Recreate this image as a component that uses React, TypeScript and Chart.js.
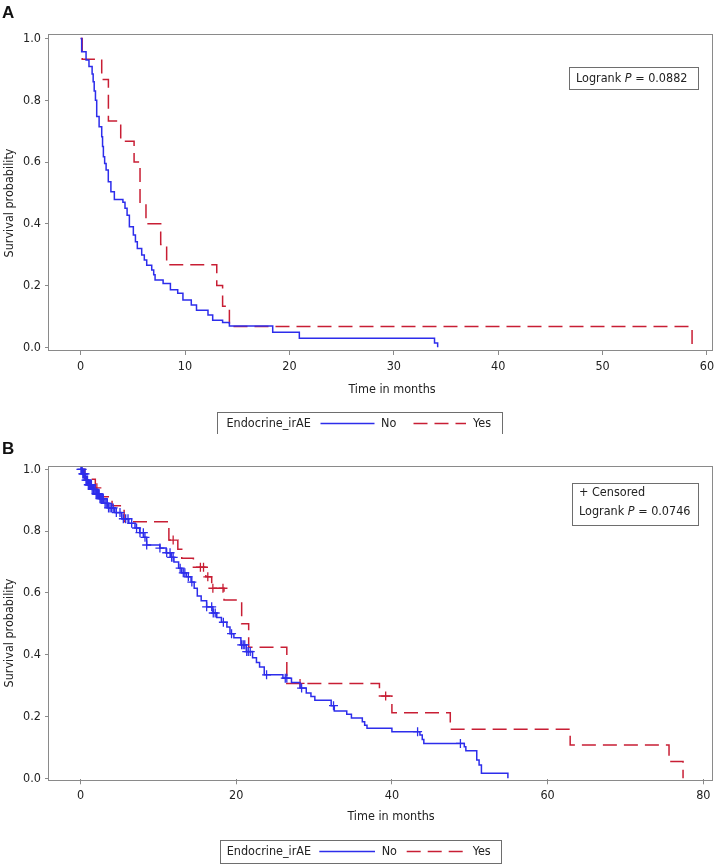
import React, { useEffect, useRef } from 'react';
import { Chart, registerables } from 'chart.js';

Chart.register(...registerables);

// ---------------- Data ----------------
// Panel A (no censoring marks)
const timeA_No = [0, 0.1, 0.52, 0.8, 1.1, 1.2, 1.3, 1.42, 1.54, 1.77, 2.02, 2.1, 2.18, 2.3, 2.44, 2.65, 2.9, 3.23, 4.05, 4.25, 4.45, 4.67, 5.05, 5.25, 5.43, 5.85, 6.1, 6.33, 6.81, 7.0, 7.13, 7.9, 8.6, 9.3, 9.8, 10.6, 11.1, 12.2, 12.65, 13.6, 14.25, 18.4, 20.95, 33.9, 34.2];
const survA_No = [1.0, 0.957, 0.93, 0.909, 0.885, 0.86, 0.83, 0.8, 0.747, 0.714, 0.682, 0.65, 0.617, 0.595, 0.574, 0.536, 0.504, 0.479, 0.47, 0.45, 0.428, 0.39, 0.364, 0.342, 0.32, 0.299, 0.283, 0.266, 0.25, 0.235, 0.218, 0.207, 0.186, 0.175, 0.153, 0.137, 0.12, 0.105, 0.088, 0.08, 0.069, 0.049, 0.029, 0.014, 0];
const timeA_Yes = [0, 0.15, 2.02, 2.66, 3.84, 5.12, 5.69, 6.26, 7.67, 8.24, 13.04, 13.6, 14.25, 58.57];
const survA_Yes = [1.0, 0.933, 0.867, 0.733, 0.667, 0.6, 0.467, 0.4, 0.333, 0.267, 0.2, 0.133, 0.067, 0];
const xTicksA = [0, 10, 20, 30, 40, 50, 60];
const logrankA = '0.0882';

// Panel B (with censoring marks)
const timeB_No = [0, 0.3, 0.6, 1.0, 1.5, 2.0, 2.5, 3.0, 3.6, 4.4, 5.3, 6.2, 7.0, 7.6, 8.1, 8.5, 10.2, 11.0, 11.6, 12.0, 12.6, 13.0, 13.6, 14.2, 14.6, 15.0, 15.5, 16.2, 17.0, 17.5, 18.1, 18.8, 19.2, 19.7, 20.6, 21.3, 22.1, 22.6, 23.0, 23.6, 26.0, 27.1, 28.2, 29.0, 29.6, 30.1, 32.2, 32.6, 34.2, 34.8, 36.2, 36.5, 36.8, 40.0, 43.6, 43.9, 44.1, 49.3, 49.5, 50.9, 51.2, 51.5, 54.9];
const survB_No = [1.0, 0.985, 0.965, 0.95, 0.935, 0.92, 0.905, 0.89, 0.875, 0.86, 0.84, 0.825, 0.81, 0.795, 0.78, 0.755, 0.745, 0.73, 0.715, 0.7, 0.68, 0.665, 0.652, 0.635, 0.615, 0.59, 0.575, 0.555, 0.535, 0.52, 0.505, 0.49, 0.468, 0.455, 0.432, 0.41, 0.39, 0.375, 0.36, 0.335, 0.324, 0.31, 0.292, 0.276, 0.265, 0.253, 0.235, 0.218, 0.207, 0.195, 0.183, 0.172, 0.162, 0.151, 0.14, 0.126, 0.113, 0.102, 0.089, 0.059, 0.043, 0.016, 0];
const censorB_No = [0.05, 0.15, 0.2, 0.3, 0.36, 0.45, 0.58, 0.7, 0.79, 0.9, 1.0, 1.1, 1.15, 1.3, 1.4, 1.5, 1.65, 1.75, 1.86, 2.0, 2.08, 2.2, 2.3, 2.4, 2.5, 2.6, 2.72, 2.85, 2.93, 3.15, 3.3, 3.45, 3.6, 3.8, 4.0, 4.2, 4.6, 5.07, 5.5, 5.8, 6.1, 6.57, 7.2, 7.64, 8.07, 8.28, 8.5, 10.2, 11.07, 11.5, 11.7, 11.9, 12.8, 13.2, 13.4, 13.85, 14.3, 16.2, 16.85, 17.05, 17.3, 18.35, 19.4, 20.7, 20.9, 21.1, 21.35, 21.55, 21.8, 23.9, 26.3, 26.5, 28.4, 32.5, 43.3, 48.8];
const timeB_Yes = [0, 0.55, 1.9, 2.35, 4.05, 5.6, 11.35, 12.5, 13.0, 14.5, 16.1, 16.85, 18.43, 20.7, 21.6, 26.5, 38.4, 40.0, 47.5, 62.9, 75.6, 77.4];
const survB_Yes = [1.0, 0.968, 0.94, 0.911, 0.882, 0.83, 0.771, 0.741, 0.712, 0.683, 0.652, 0.615, 0.577, 0.5, 0.424, 0.307, 0.266, 0.212, 0.159, 0.108, 0.054, 0];
const censorB_Yes = [2.1, 11.9, 15.4, 15.8, 16.35, 17.0, 18.3, 28.2, 39.2];
const xTicksB = [0, 20, 40, 60, 80];
const logrankB = '0.0746';

const yTicks = [0, 0.2, 0.4, 0.6, 0.8, 1.0];
const groupTitle = 'Endocrine_irAE';
const groupLabels = ['No', 'Yes'];
const xTitle = 'Time in months';
const yTitle = 'Survival probability';
const censoredText = '+ Censored';

// ---------------- Styles ----------------
const FONT = '"DejaVu Sans Condensed", "Liberation Sans", sans-serif';
const FS = 12.5;
const BLUE = 'rgb(45,45,235)';
const RED = 'rgb(200,30,52)';
const FRAME = '#8a8a8a';
const BOXLINE = '#6e6e6e';
const TEXT = '#222222';
const DASH = [14, 7];

function survAt(times: number[], surv: number[], t: number) {
  let s = surv[0];
  for (let i = 0; i < times.length; i++) {
    if (times[i] <= t) s = surv[i];
    else break;
  }
  return s;
}

type Curve = { times: number[]; surv: number[]; color: string; dashed: boolean; censor?: number[] };
type InsetLine = { x: number; y: number; parts: { t: string; italic?: boolean }[] };
type PanelCfg = {
  top: number;
  height: number;
  padTop: number;
  padBottom: number;
  xMin: number; xMax: number; yMin: number; yMax: number;
  xTicks: number[];
  curves: Curve[];
  letter: string; letterY: number;
  xTitlePos: [number, number];
  yTitlePos: [number, number];
  inset: { x: number; y: number; w: number; h: number; lines: InsetLine[] };
  legend: { x: number; y: number; w: number; h: number; titleX: number; noLine: [number, number]; noX: number; yesLine: [number, number]; yesX: number };
};

const panelA: PanelCfg = {
  top: 0, height: 434, padTop: 35, padBottom: 54,
  xMin: -3.03, xMax: 60.48, yMin: -0.0087, yMax: 1.0113,
  xTicks: xTicksA,
  curves: [
    { times: timeA_No, surv: survA_No, color: BLUE, dashed: false },
    { times: timeA_Yes, surv: survA_Yes, color: RED, dashed: true },
  ],
  letter: 'A', letterY: 17.5,
  xTitlePos: [392, 389.5],
  yTitlePos: [10, 203],
  inset: { x: 569, y: 67, w: 129, h: 22, lines: [
    { x: 576, y: 78.3, parts: [{ t: 'Logrank ' }, { t: 'P', italic: true }, { t: ' = ' + logrankA }] },
  ] },
  legend: { x: 217, y: 412, w: 285, h: 23, titleX: 226.5, noLine: [320.5, 374.5], noX: 381, yesLine: [413.5, 466], yesX: 473 },
};

const panelB: PanelCfg = {
  top: 434, height: 434, padTop: 32.7, padBottom: 58.7,
  xMin: -4.05, xMax: 81.12, yMin: -0.0032, yMax: 1.0084,
  xTicks: xTicksB,
  curves: [
    { times: timeB_No, surv: survB_No, color: BLUE, dashed: false, censor: censorB_No },
    { times: timeB_Yes, surv: survB_Yes, color: RED, dashed: true, censor: censorB_Yes },
  ],
  letter: 'B', letterY: 453.5,
  xTitlePos: [391, 817],
  yTitlePos: [10, 633],
  inset: { x: 572, y: 483, w: 126, h: 42, lines: [
    { x: 579, y: 493, parts: [{ t: censoredText }] },
    { x: 579, y: 511.7, parts: [{ t: 'Logrank ' }, { t: 'P', italic: true }, { t: ' = ' + logrankB }] },
  ] },
  legend: { x: 220, y: 840, w: 281, h: 23, titleX: 226.7, noLine: [319.3, 375], noX: 381.7, yesLine: [406.7, 466], yesX: 472.7 },
};

function KMPanel({ cfg }: { cfg: PanelCfg }) {
  const ref = useRef<HTMLCanvasElement>(null);
  useEffect(() => {
    const canvas = ref.current;
    if (!canvas) return;
    const datasets: any[] = [];
    cfg.curves.forEach((cv) => {
      if (cv.censor) {
        datasets.push({
          data: cv.censor.map((t) => ({ x: t, y: survAt(cv.times, cv.surv, t) })),
          showLine: false,
          pointStyle: 'cross',
          pointRadius: 4.5,
          pointHoverRadius: 4.5,
          pointBorderWidth: 1.3,
          borderColor: cv.color,
          backgroundColor: cv.color,
          pointBorderColor: cv.color,
        });
      }
      datasets.push({
        data: cv.times.map((t, i) => ({ x: t, y: cv.surv[i] })),
        borderColor: cv.color,
        backgroundColor: cv.color,
        borderWidth: 1.5,
        borderDash: cv.dashed ? DASH : [],
        stepped: true,
        pointRadius: 0,
        pointHoverRadius: 0,
        fill: false,
        tension: 0,
      });
    });

    const off = cfg.top;
    const decor = {
      id: 'decor',
      afterDraw(chart: any) {
        const ctx = chart.ctx as CanvasRenderingContext2D;
        const { left, top, right, bottom } = chart.chartArea;
        ctx.save();
        ctx.strokeStyle = FRAME;
        ctx.lineWidth = 1;
        ctx.setLineDash([]);
        ctx.strokeRect(Math.round(left) - 0.5, Math.round(top) - 0.5, Math.round(right - left) + 1, Math.round(bottom - top) + 1);

        ctx.fillStyle = '#111';
        ctx.font = `bold 17px "Liberation Sans", Arial, sans-serif`;
        ctx.textBaseline = 'alphabetic';
        ctx.textAlign = 'left';
        ctx.fillText(cfg.letter, 2, cfg.letterY - off);

        ctx.fillStyle = TEXT;
        ctx.font = `${FS}px ${FONT}`;
        ctx.textAlign = 'center';
        ctx.textBaseline = 'middle';
        ctx.fillText(xTitle, cfg.xTitlePos[0], cfg.xTitlePos[1] - off);
        ctx.save();
        ctx.translate(cfg.yTitlePos[0], cfg.yTitlePos[1] - off);
        ctx.rotate(-Math.PI / 2);
        ctx.fillText(yTitle, 0, 0);
        ctx.restore();

        const ins = cfg.inset;
        ctx.strokeStyle = BOXLINE;
        ctx.lineWidth = 1;
        ctx.strokeRect(ins.x + 0.5, ins.y - off + 0.5, ins.w, ins.h);
        ctx.textAlign = 'left';
        ins.lines.forEach((ln) => {
          let x = ln.x;
          ln.parts.forEach((p) => {
            ctx.font = `${p.italic ? 'italic ' : ''}${FS}px ${FONT}`;
            ctx.fillText(p.t, x, ln.y - off);
            x += ctx.measureText(p.t).width;
          });
        });

        const lg = cfg.legend;
        const cy = lg.y + lg.h / 2 - off;
        ctx.strokeRect(lg.x + 0.5, lg.y - off + 0.5, lg.w, lg.h);
        ctx.font = `${FS}px ${FONT}`;
        ctx.fillStyle = TEXT;
        ctx.fillText(groupTitle, lg.titleX, cy);
        ctx.fillText(groupLabels[0], lg.noX, cy);
        ctx.fillText(groupLabels[1], lg.yesX, cy);
        ctx.lineWidth = 1.5;
        ctx.strokeStyle = BLUE;
        ctx.beginPath();
        ctx.moveTo(lg.noLine[0], cy);
        ctx.lineTo(lg.noLine[1], cy);
        ctx.stroke();
        ctx.strokeStyle = RED;
        ctx.setLineDash(DASH);
        ctx.beginPath();
        ctx.moveTo(lg.yesLine[0], cy);
        ctx.lineTo(lg.yesLine[1], cy);
        ctx.stroke();
        ctx.restore();
      },
    };

    const chart = new Chart(canvas, {
      type: 'line',
      data: { datasets },
      options: {
        animation: false,
        responsive: false,
        maintainAspectRatio: false,
        events: [],
        layout: { padding: { left: 0, right: 8, top: cfg.padTop, bottom: cfg.padBottom } },
        plugins: { legend: { display: false }, tooltip: { enabled: false }, title: { display: false } },
        scales: {
          x: {
            type: 'linear',
            min: cfg.xMin,
            max: cfg.xMax,
            afterBuildTicks: (s: any) => { s.ticks = cfg.xTicks.map((v) => ({ value: v })); },
            afterFit: (s: any) => { s.height = 30; },
            grid: { display: true, drawOnChartArea: false, drawTicks: true, tickLength: 5, color: FRAME, lineWidth: 1 },
            border: { display: false },
            ticks: { color: TEXT, font: { family: FONT, size: FS }, padding: 4, maxRotation: 0, autoSkip: false, callback: (v: any) => String(v) },
          },
          y: {
            type: 'linear',
            min: cfg.yMin,
            max: cfg.yMax,
            afterBuildTicks: (s: any) => { s.ticks = yTicks.map((v) => ({ value: v })); },
            afterFit: (s: any) => { s.width = 49; },
            grid: { display: true, drawOnChartArea: false, drawTicks: true, tickLength: 4, color: FRAME, lineWidth: 1 },
            border: { display: false },
            ticks: { color: TEXT, font: { family: FONT, size: FS }, padding: 4, autoSkip: false, callback: (v: any) => Number(v).toFixed(1) },
          },
        },
      } as any,
      plugins: [decor],
    });
    return () => chart.destroy();
  }, [cfg]);
  return (
    <canvas
      ref={ref}
      width={720}
      height={cfg.height}
      style={{ position: 'absolute', left: 0, top: cfg.top, width: 720, height: cfg.height, display: 'block' }}
    />
  );
}

export default function App() {
  return (
    <div style={{ position: 'absolute', left: 0, top: 0, width: 720, height: 868, background: '#fff', overflow: 'hidden' }}>
      <KMPanel cfg={panelA} />
      <KMPanel cfg={panelB} />
    </div>
  );
}
